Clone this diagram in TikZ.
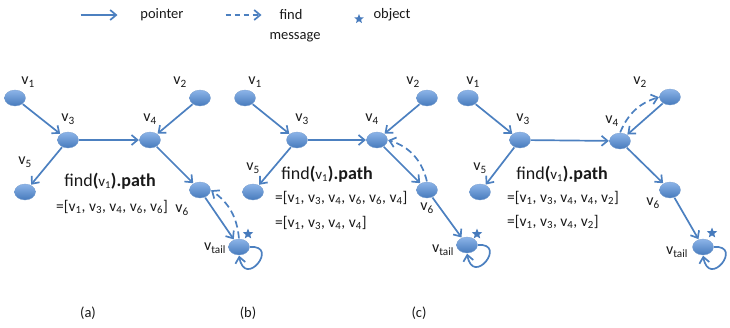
\documentclass[tikz,border=0pt]{standalone}
\usepackage{fontspec}
\setmainfont{Carlito}
\usetikzlibrary{arrows.meta,shapes.geometric}
\definecolor{eblue}{RGB}{76,128,192}
\definecolor{nblue}{RGB}{70,122,188}
\definecolor{nlight}{RGB}{140,180,232}
\definecolor{txt}{RGB}{25,25,25}
\newcommand\vsub[1]{v\textsubscript{#1}}
\tikzset{
  vnode/.style={ellipse, minimum width=21pt, minimum height=16pt, inner sep=0pt,
    top color=nlight, bottom color=nblue, draw=nblue!70, line width=0.3pt},
  ptr/.style={draw=eblue, line width=1.7pt, shorten <=0.5pt, shorten >=0.5pt,
    -{Straight Barb[length=6pt,width=10pt]}},
  fnd/.style={ptr, dash pattern=on 7pt off 4pt},
  lbl/.style={font=\fontsize{16}{18}\selectfont, text=txt, inner sep=0pt},
  lst/.style={font=\fontsize{15.5}{18}\selectfont, text=txt, inner sep=0pt, anchor=west},
  fnt/.style={font=\fontsize{18}{20}\selectfont, text=txt, inner sep=0pt},
  leg/.style={font=\fontsize{14.5}{16}\selectfont, text=txt, inner sep=0pt},
  obj/.style={star, star points=5, star point ratio=2.3, fill=nblue, inner sep=0pt, minimum size=11pt},
}
\begin{document}
\begin{tikzpicture}[x=1pt,y=-1pt]
\useasboundingbox (0,0) rectangle (730,327);
% legend
\coordinate (lp1) at (80,15); \coordinate (lp2) at (118,15);
\draw[ptr] (lp1) -- (lp2);
\node[leg] (lpt) at (162,15) {pointer};
\coordinate (lf1) at (225,15); \coordinate (lf2) at (262,15);
\draw[fnd, dash pattern=on 5pt off 4pt] (lf1) -- (lf2);
\node[leg] (lfind) at (291,15) {find};
\node[leg] (lmsg) at (295,37) {message};
\node[obj, minimum size=10pt] (lstar) at (359,19) {};
\node[leg] (lobj) at (392,15) {object};
% ---------- panel (a)
\node[vnode] (a1) at (15,98) {};
\node[vnode] (a2) at (200,98) {};
\node[vnode] (a3) at (68,140) {};
\node[vnode] (a4) at (150,140) {};
\node[vnode] (a5) at (25,192) {};
\node[vnode] (a6) at (200,190) {};
\node[vnode] (at) at (239,247) {};
\node[lbl] (la1) at (28,82) {\vsub{1}};
\node[lbl] (la2) at (180,82) {\vsub{2}};
\node[lbl] (la3) at (68,119) {\vsub{3}};
\node[lbl] (la4) at (150,119) {\vsub{4}};
\node[lbl] (la5) at (25,162) {\vsub{5}};
\node[lbl] (la6) at (182,210) {\vsub{6}};
\node[lbl] (lat) at (215,248) {\vsub{tail}};
\node[obj] (sa) at (248,234) {};
\draw[ptr] (a1) -- (a3);
\draw[ptr] (a2) -- (a4);
\draw[ptr] (a3) -- (a4);
\draw[ptr] (a3) -- (a5);
\draw[ptr] (a4) -- (a6);
\draw[ptr] (a6) -- (at);
\draw[ptr] (at.east) .. controls +(30,-2) and +(6,34) .. (at.south);
\draw[fnd] (at.north) to[bend right=25] (a6.east);
\node[fnt] (fa) at (110,181) {find\textbf{(}{\fontsize{15}{16}\selectfont\vsub{1}}\textbf{).path}};
\node[lst] (pa) at (56,207) {=[\vsub{1}, \vsub{3}, \vsub{4}, \vsub{6}, \vsub{6}]};
% ---------- panel (b)
\node[vnode] (b1) at (245,98) {};
\node[vnode] (b2) at (427,98) {};
\node[vnode] (b3) at (297,140) {};
\node[vnode] (b4) at (377,140) {};
\node[vnode] (b5) at (253,192) {};
\node[vnode] (b6) at (427,190) {};
\node[vnode] (bt) at (467,245) {};
\node[lbl] (lb1) at (255,82) {\vsub{1}};
\node[lbl] (lb2) at (413,82) {\vsub{2}};
\node[lbl] (lb3) at (302,119) {\vsub{3}};
\node[lbl] (lb4) at (372,119) {\vsub{4}};
\node[lbl] (lb5) at (253,168) {\vsub{5}};
\node[lbl] (lb6) at (427,208) {\vsub{6}};
\node[lbl] (lbt) at (443,250) {\vsub{tail}};
\node[obj] (sb) at (477,234) {};
\draw[ptr] (b1) -- (b3);
\draw[ptr] (b2) -- (b4);
\draw[ptr] (b3) -- (b4);
\draw[ptr] (b3) -- (b5);
\draw[ptr] (b4) -- (b6);
\draw[ptr] (b6) -- (bt);
\draw[ptr] (bt.east) .. controls +(30,-2) and +(6,34) .. (bt.south);
\draw[fnd] (b6.north) to[bend right=30] (b4.east);
\node[fnt] (fb) at (327,174) {find\textbf{(}{\fontsize{15}{16}\selectfont\vsub{1}}\textbf{).path}};
\node[lst] (pb1) at (275,198) {=[\vsub{1}, \vsub{3}, \vsub{4}, \vsub{6}, \vsub{6}, \vsub{4}]};
\node[lst] (pb2) at (275,223) {=[\vsub{1}, \vsub{3}, \vsub{4}, \vsub{4}]};
% ---------- panel (c)
\node[vnode] (c1) at (468,98) {};
\node[vnode] (c2) at (670,97) {};
\node[vnode] (c3) at (520,140) {};
\node[vnode] (c4) at (620,141) {};
\node[vnode] (c5) at (480,192) {};
\node[vnode] (c6) at (670,190) {};
\node[vnode] (ct) at (703,247) {};
\node[lbl] (lc1) at (473,82) {\vsub{1}};
\node[lbl] (lc2) at (640,82) {\vsub{2}};
\node[lbl] (lc3) at (523,119) {\vsub{3}};
\node[lbl] (lc4) at (612,121) {\vsub{4}};
\node[lbl] (lc5) at (480,168) {\vsub{5}};
\node[lbl] (lc6) at (653,203) {\vsub{6}};
\node[lbl] (lct) at (677,252) {\vsub{tail}};
\node[obj] (sc) at (712,233) {};
\draw[ptr] (c1) -- (c3);
\draw[ptr] (c2) -- (c4);
\draw[ptr] (c3) -- (c4);
\draw[ptr] (c3) -- (c5);
\draw[ptr] (c4) -- (c6);
\draw[ptr] (c6) -- (ct);
\draw[ptr] (ct.east) .. controls +(30,-2) and +(6,34) .. (ct.south);
\draw[fnd] (c4.north) to[bend left=25] (c2.west);
\node[fnt] (fc) at (562,174) {find\textbf{(}{\fontsize{15}{16}\selectfont\vsub{1}}\textbf{).path}};
\node[lst] (pc1) at (507,198) {=[\vsub{1}, \vsub{3}, \vsub{4}, \vsub{4}, \vsub{2}]};
\node[lst] (pc2) at (507,222) {=[\vsub{1}, \vsub{3}, \vsub{4}, \vsub{2}]};
% captions
\node[leg] (capa) at (88,313) {(a)};
\node[leg] (capb) at (248,313) {(b)};
\node[leg] (capc) at (419,313) {(c)};
\end{tikzpicture}
\end{document}
